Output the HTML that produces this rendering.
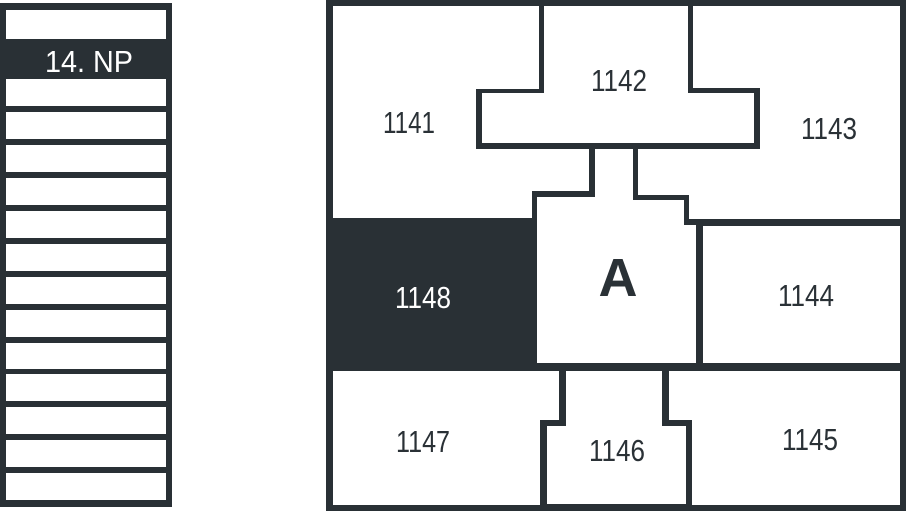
<!DOCTYPE html>
<html><head><style>
html,body{margin:0;padding:0;background:#fff;}
svg{display:block;}
text{font-family:"Liberation Sans",sans-serif;font-size:31px;fill:#2a3136;text-anchor:middle;}
</style></head><body>
<svg width="906" height="511" viewBox="0 0 906 511">
<rect x="0" y="3" width="172" height="504" fill="#293035"/>
<g fill="#fff">
<rect x="6" y="10" width="160" height="29"/>
<rect x="6" y="79" width="160" height="27"/>
<rect x="6" y="112" width="160" height="27"/>
<rect x="6" y="145" width="160" height="27"/>
<rect x="6" y="178" width="160" height="27"/>
<rect x="6" y="211" width="160" height="27"/>
<rect x="6" y="244" width="160" height="27"/>
<rect x="6" y="277" width="160" height="27"/>
<rect x="6" y="310" width="160" height="27"/>
<rect x="6" y="343" width="160" height="26"/>
<rect x="6" y="374" width="160" height="27"/>
<rect x="6" y="407" width="160" height="27"/>
<rect x="6" y="440" width="160" height="27"/>
<rect x="6" y="473" width="160" height="27"/>
</g>
<text x="89" y="72" textLength="88" lengthAdjust="spacingAndGlyphs" style="fill:#fff">14. NP</text>

<rect x="326" y="0" width="580" height="511" fill="#293035"/>
<g fill="#fff">
<polygon points="333,6 539,6 539,89 476,89 476,149 589,149 589,191 532,191 532,218 333,218"/>
<polygon points="544,6 688,6 688,93 754,93 754,143 482,143 482,93 544,93"/>
<polygon points="693,6 900,6 900,219 689,219 689,195 638,195 638,149 760,149 760,88 693,88"/>
<polygon points="537,197 595,197 595,149 633,149 633,200 684,200 684,225 696,225 696,363 537,363"/>
<rect x="703" y="226" width="197" height="137"/>
<polygon points="333,371 559,371 559,420 540,420 540,505 333,505"/>
<polygon points="566,371 662,371 662,426 686,426 686,504 547,504 547,426 566,426"/>
<polygon points="669,371 900,371 900,505 692,505 692,420 669,420"/>
</g>
<g lengthAdjust="spacingAndGlyphs">
<text x="409" y="133" textLength="52" lengthAdjust="spacingAndGlyphs">1141</text>
<text x="619" y="91" textLength="56" lengthAdjust="spacingAndGlyphs">1142</text>
<text x="829" y="139" textLength="56" lengthAdjust="spacingAndGlyphs">1143</text>
<text x="423" y="308" textLength="56" lengthAdjust="spacingAndGlyphs" style="fill:#fff">1148</text>
<text x="806" y="306" textLength="56" lengthAdjust="spacingAndGlyphs">1144</text>
<text x="423" y="452" textLength="54" lengthAdjust="spacingAndGlyphs">1147</text>
<text x="617" y="461" textLength="56" lengthAdjust="spacingAndGlyphs">1146</text>
<text x="810" y="450" textLength="56" lengthAdjust="spacingAndGlyphs">1145</text>
</g>
<text x="618" y="296" style="font-size:54px;font-weight:bold">A</text>
</svg>
</body></html>
